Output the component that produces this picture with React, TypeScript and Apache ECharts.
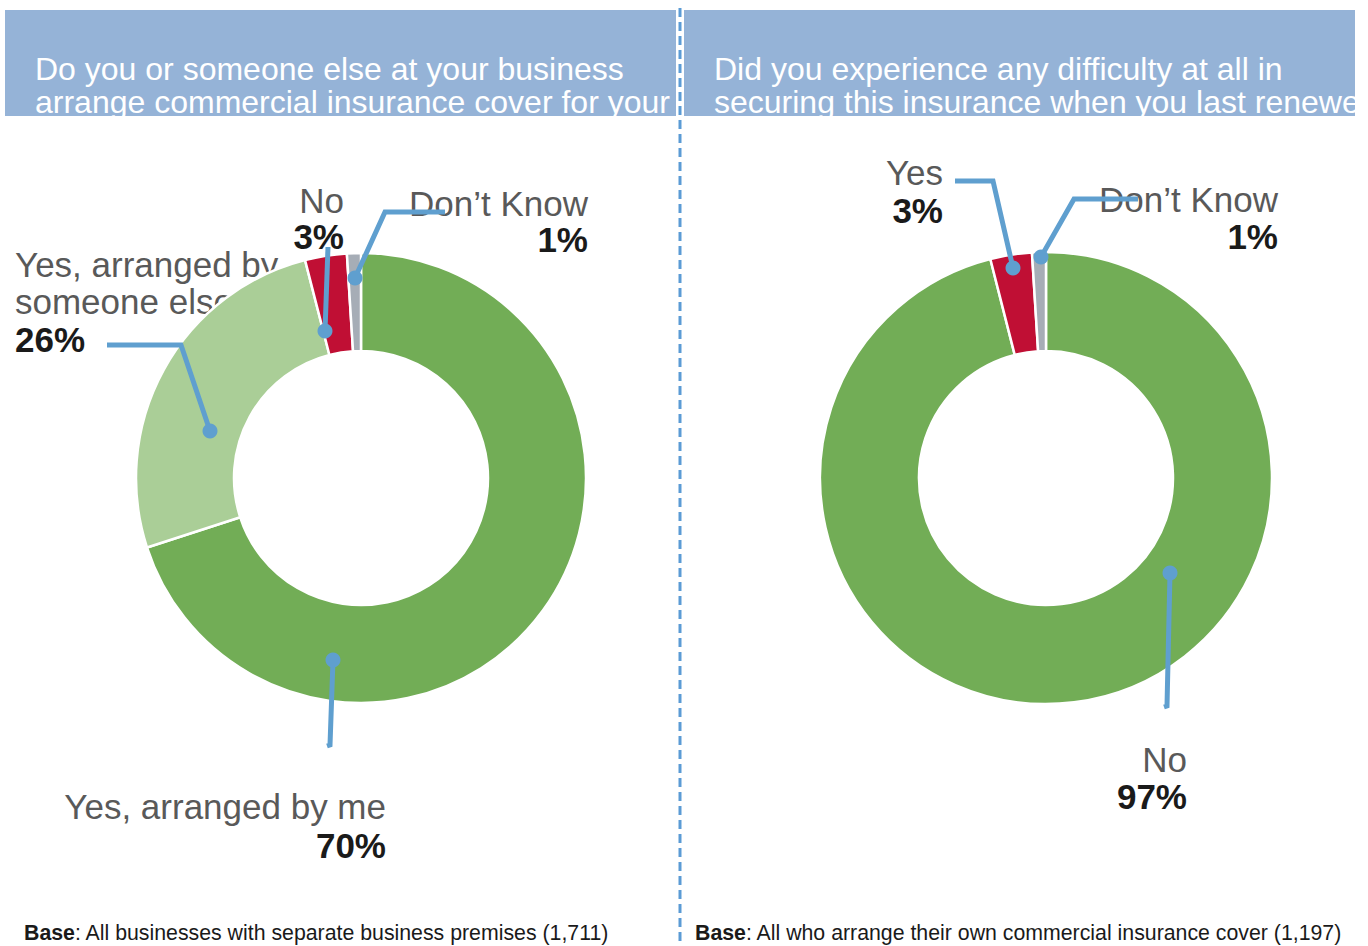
import React, { useEffect, useRef } from "react";
import * as echarts from "echarts";

// ---------- data ----------
const leftNames = ["Yes, arranged by me", "Yes, arranged by someone else", "No", "Don’t Know"];
const leftValues = [70, 26, 3, 1];
const leftColors = ["#72AD56", "#AACE97", "#C00F34", "#A6ADB6"];

const rightNames = ["No", "Yes", "Don’t Know"];
const rightValues = [97, 3, 1];
const rightColors = ["#72AD56", "#C00F34", "#A6ADB6"];

const leftTitle = ["Do you or someone else at your business", "arrange commercial insurance cover for your"];
const rightTitle = ["Did you experience any difficulty at all in", "securing this insurance when you last renewed"];
const leftBase = ["Base", ": All businesses with separate business premises (1,711)"];
const rightBase = ["Base", ": All who arrange their own commercial insurance cover (1,197)"];

// label text lines (name split as in the reference)
const leftLabelLines = [["Yes, arranged by me"], ["Yes, arranged by", "someone else"], ["No"], ["Don’t Know"]];
const rightLabelLines = [["No"], ["Yes"], ["Don’t Know"]];

// ---------- annotation layout (label anchors and leader lines) ----------
type LabelPos = { x: number; y: number; align: "left" | "right"; lh: number };
const leftLabelPos: LabelPos[] = [
  { x: 386, y: 806, align: "right", lh: 39 },
  { x: 15, y: 264, align: "left", lh: 37.5 },
  { x: 344, y: 200, align: "right", lh: 36 },
  { x: 588, y: 203, align: "right", lh: 36 },
];
const rightLabelPos: LabelPos[] = [
  { x: 1187, y: 759, align: "right", lh: 37 },
  { x: 943, y: 172, align: "right", lh: 38 },
  { x: 1278, y: 199, align: "right", lh: 37 },
];
const leftLeaders = [
  [[327, 746], [330, 745], [333, 660]],
  [[107, 345], [181, 345], [210, 431]],
  [[328, 247], [325, 331]],
  [[445, 212], [385, 212], [355, 278]],
];
const rightLeaders = [
  [[1164, 707], [1167, 706], [1170, 573]],
  [[955, 181], [993, 181], [1013, 268]],
  [[1138, 199], [1074, 199], [1041, 257]],
];

const FONT = "'Liberation Sans', Arial, sans-serif";
const LEADER = "#5F9FCF";

function labelElements(lines: string[][], values: number[], pos: LabelPos[]) {
  const els: any[] = [];
  lines.forEach((ls, i) => {
    const p = pos[i];
    ls.forEach((t, k) => {
      els.push({
        type: "text",
        z: 0,
        x: p.x,
        y: p.y + k * p.lh,
        style: {
          text: t,
          fill: "#595959",
          font: `35px ${FONT}`,
          align: p.align,
          verticalAlign: "middle",
        },
      });
    });
    els.push({
      type: "text",
      z: 0,
      x: p.x,
      y: p.y + ls.length * p.lh,
      style: {
        text: `${values[i]}%`,
        fill: "#1A1A1A",
        font: `bold 35px ${FONT}`,
        align: p.align,
        verticalAlign: "middle",
      },
    });
  });
  return els;
}

function leaderElements(leaders: number[][][]) {
  const els: any[] = [];
  leaders.forEach((pts) => {
    els.push({
      type: "polyline",
      z: 20,
      shape: { points: pts },
      style: { stroke: LEADER, lineWidth: 5, fill: null, lineJoin: "miter" },
    });
    const end = pts[pts.length - 1];
    els.push({
      type: "circle",
      z: 21,
      shape: { cx: end[0], cy: end[1], r: 7.5 },
      style: { fill: LEADER },
    });
  });
  return els;
}

export default function App() {
  const ref = useRef<HTMLDivElement>(null);
  useEffect(() => {
    if (!ref.current) return;
    const chart = echarts.init(ref.current, null, { renderer: "svg" });

    const pieBase = {
      type: "pie",
      radius: [127, 225],
      startAngle: 90,
      clockwise: true,
      label: { show: false },
      labelLine: { show: false },
      emphasis: { disabled: true },
      silent: true,
      z: 2,
    };

    const footStyle = {
      b: { font: `bold 21.3px ${FONT}`, fill: "#1A1A1A" },
      n: { font: `21.3px ${FONT}`, fill: "#1A1A1A" },
    };

    const graphics: any[] = [
      // header bands
      { type: "rect", z: 1, shape: { x: 5, y: 10, width: 671, height: 106 }, style: { fill: "#95B3D7" } },
      { type: "rect", z: 1, shape: { x: 684, y: 10, width: 671, height: 106 }, style: { fill: "#95B3D7" } },
      // titles
      ...leftTitle.map((t, i) => ({
        type: "text", z: 2, x: 35, y: 69 + i * 33,
        style: { text: t, fill: "#FFFFFF", font: `32px ${FONT}`, verticalAlign: "middle", align: "left" },
      })),
      ...rightTitle.map((t, i) => ({
        type: "text", z: 2, x: 714, y: 69 + i * 33,
        style: { text: t, fill: "#FFFFFF", font: `32px ${FONT}`, verticalAlign: "middle", align: "left" },
      })),
      // clip overflow of header text
      { type: "rect", z: 3, shape: { x: 0, y: 116, width: 1368, height: 12 }, style: { fill: "#FFFFFF" } },
      { type: "rect", z: 3, shape: { x: 1355, y: 0, width: 13, height: 130 }, style: { fill: "#FFFFFF" } },
      // dashed divider
      {
        type: "line", z: 30,
        shape: { x1: 680, y1: 8, x2: 680, y2: 946 },
        style: { stroke: "#5B9BD5", lineWidth: 3, lineDash: [9, 5] },
      },
      // labels
      ...labelElements(leftLabelLines, leftValues, leftLabelPos),
      ...labelElements(rightLabelLines, rightValues, rightLabelPos),
      // leaders
      ...leaderElements(leftLeaders),
      ...leaderElements(rightLeaders),
      // footers
      {
        type: "text", z: 2, x: 24, y: 933,
        style: { text: `{b|${leftBase[0]}}{n|${leftBase[1]}}`, verticalAlign: "middle", rich: footStyle },
      },
      {
        type: "text", z: 2, x: 695, y: 933,
        style: { text: `{b|${rightBase[0]}}{n|${rightBase[1]}}`, verticalAlign: "middle", rich: footStyle },
      },
    ];

    chart.setOption({
      animation: false,
      backgroundColor: "#FFFFFF",
      graphic: { elements: graphics },
      series: [
        {
          ...pieBase,
          center: [361, 478],
          itemStyle: { borderColor: "#FFFFFF", borderWidth: 2.5 },
          data: leftNames.map((n, i) => ({ name: n, value: leftValues[i], itemStyle: { color: leftColors[i] } })),
        },
        {
          ...pieBase,
          center: [1046, 478],
          radius: [127, 226],
          itemStyle: { borderColor: "#FFFFFF", borderWidth: 2.5 },
          data: rightNames.map((n, i) => ({ name: n, value: rightValues[i], itemStyle: { color: rightColors[i] } })),
        },
      ],
    });
    return () => chart.dispose();
  }, []);

  return (
    <div
      ref={ref}
      style={{ position: "absolute", left: 0, top: 0, width: 1368, height: 946 }}
    />
  );
}
